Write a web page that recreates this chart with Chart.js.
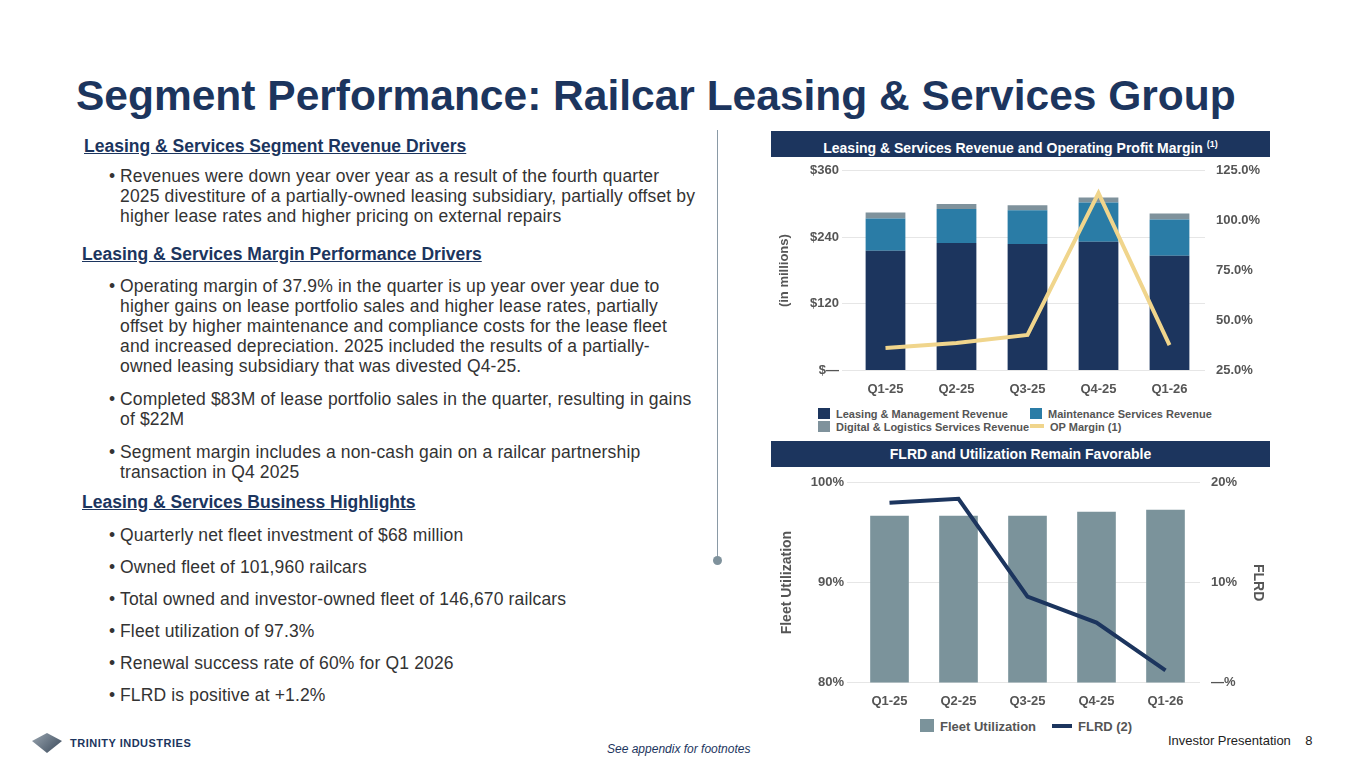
<!DOCTYPE html>
<html><head><meta charset="utf-8">
<script src="https://cdn.jsdelivr.net/npm/chart.js@4"></script>
<style>
body{margin:0;width:1365px;height:768px;position:relative;font-family:Arial,"Liberation Sans",sans-serif;background:#fff;overflow:hidden}
.abs{position:absolute}
h1{position:absolute;left:76px;top:72px;margin:0;font-size:42.5px;color:#1c355e;font-weight:bold;letter-spacing:0px}
.hd{position:absolute;left:84px;font-size:17.5px;font-weight:bold;color:#1c355e;text-decoration:underline}
.b{position:absolute;left:110px;font-size:17.5px;color:#333;line-height:20px;width:588px;letter-spacing:0.15px}
.b:before{content:"•";position:absolute;left:-1px}
.b span{display:block;padding-left:10px}
.bar{position:absolute;left:771px;width:499px;height:26px;background:#1c355e;color:#fff;font-size:14px;font-weight:bold;text-align:center;line-height:26px}
.lg{position:absolute;font-size:11px;font-weight:bold;color:#555}
.sw{display:inline-block;width:12px;height:11px;vertical-align:-1px;margin-right:6px}
</style></head><body>
<h1>Segment Performance: Railcar Leasing &amp; Services Group</h1>
<div class="hd" style="top:136px">Leasing &amp; Services Segment Revenue Drivers</div>
<div class="b" style="top:166px"><span>Revenues were down year over year as a result of the fourth quarter 2025 divestiture of a partially-owned leasing subsidiary, partially offset by higher lease rates and higher pricing on external repairs</span></div>
<div class="hd" style="top:244px;left:82px">Leasing &amp; Services Margin Performance Drivers</div>
<div class="b" style="top:276px"><span>Operating margin of 37.9% in the quarter is up year over year due to higher gains on lease portfolio sales and higher lease rates, partially offset by higher maintenance and compliance costs for the lease fleet and increased depreciation. 2025 included the results of a partially-owned leasing subsidiary that was divested Q4-25.</span></div>
<div class="b" style="top:389px"><span>Completed $83M of lease portfolio sales in the quarter, resulting in gains of $22M</span></div>
<div class="b" style="top:442px"><span>Segment margin includes a non-cash gain on a railcar partnership transaction in Q4 2025</span></div>
<div class="hd" style="top:492px;left:82px">Leasing &amp; Services Business Highlights</div>
<div class="b" style="top:525px"><span>Quarterly net fleet investment of $68 million</span></div>
<div class="b" style="top:557px"><span>Owned fleet of 101,960 railcars</span></div>
<div class="b" style="top:589px"><span>Total owned and investor-owned fleet of 146,670 railcars</span></div>
<div class="b" style="top:621px"><span>Fleet utilization of 97.3%</span></div>
<div class="b" style="top:653px"><span>Renewal success rate of 60% for Q1 2026</span></div>
<div class="b" style="top:685px"><span>FLRD is positive at +1.2%</span></div>
<div class="abs" style="left:717px;top:130px;width:1px;height:430px;background:#8a9aa6"></div>
<div class="abs" style="left:713px;top:556px;width:9px;height:9px;border-radius:50%;background:#7f929c"></div>
<div class="bar" style="top:131px">Leasing &amp; Services Revenue and Operating Profit Margin <sup style="font-size:9px">(1)</sup></div>
<div class="bar" style="top:441px">FLRD and Utilization Remain Favorable</div>
<div class="abs" style="left:775px;top:160px;width:495px;height:240px"><canvas id="c1"></canvas></div>
<div class="abs" style="left:775px;top:472px;width:495px;height:240px"><canvas id="c2"></canvas></div>
<div class="lg" style="left:818px;top:408px"><span class="sw" style="background:#1c355e"></span>Leasing &amp; Management Revenue</div>
<div class="lg" style="left:1030px;top:408px"><span class="sw" style="background:#2a7ca6"></span>Maintenance Services Revenue</div>
<div class="lg" style="left:818px;top:421px"><span class="sw" style="background:#7f929c"></span>Digital &amp; Logistics Services Revenue</div>
<div class="lg" style="left:1030px;top:421px"><span class="sw" style="background:#f0d58c;height:4px;vertical-align:3px;width:14px"></span>OP Margin (1)</div>
<div class="lg" style="left:920px;top:719px;font-size:13px"><span class="sw" style="background:#7b939b;width:14px;height:13px"></span>Fleet Utilization</div>
<div class="lg" style="left:1052px;top:719px;font-size:13px"><span class="sw" style="background:#1c355e;height:4px;width:20px;vertical-align:3px"></span>FLRD (2)</div>
<div class="abs" style="left:32px;top:733px;font-size:11px;font-weight:bold;color:#1c355e;letter-spacing:0.5px"><span style="display:inline-block;width:30px;height:20px;vertical-align:-6px;background:linear-gradient(135deg,#9aa6b0,#39485a);clip-path:polygon(0 40%,50% 0,100% 40%,50% 100%);margin-right:8px"></span>TRINITY INDUSTRIES</div>
<div class="abs" style="left:607px;top:742px;font-size:12px;font-style:italic;color:#1c355e">See appendix for footnotes</div>
<div class="abs" style="left:1168px;top:733px;font-size:13px;color:#222">Investor Presentation&nbsp;&nbsp;&nbsp;&nbsp;8</div>
<script>
const quarters=["Q1-25","Q2-25","Q3-25","Q4-25","Q1-26"];
const leasingMgmt=[216,230,228,232,207];
const maintenance=[58,61,61,71,65];
const digital=[11,9,9,9,11];
const opMargin=[36.2,38.7,42.8,113.8,37.7];
const fleetUtil=[96.7,96.7,96.7,97.1,97.3];
const flrd=[18.0,18.4,8.6,6.0,1.2];
Chart.defaults.font.family="Arial, 'Liberation Sans', sans-serif";
Chart.defaults.font.weight="bold";
Chart.defaults.color="#555";
Chart.defaults.animation=false;
const fix=(w)=>function(s){s.width=w;};
new Chart(document.getElementById('c1'),{data:{labels:quarters,datasets:[
{type:'line',data:opMargin,yAxisID:'y1',borderColor:'#f0d58c',borderWidth:4,pointRadius:0,tension:0},
{type:'bar',data:leasingMgmt,backgroundColor:'#1c355e',stack:'s',categoryPercentage:0.56,barPercentage:1},
{type:'bar',data:maintenance,backgroundColor:'#2a7ca6',stack:'s',categoryPercentage:0.56,barPercentage:1},
{type:'bar',data:digital,backgroundColor:'#7f929c',stack:'s',categoryPercentage:0.56,barPercentage:1}]},
options:{responsive:true,maintainAspectRatio:false,layout:{padding:{top:6,right:0}},plugins:{legend:{display:false},tooltip:{enabled:false}},
scales:{x:{stacked:true,grid:{display:false},border:{display:false},ticks:{font:{size:13},color:'#555'}},
y:{stacked:true,min:0,max:360,afterFit:fix(75),ticks:{stepSize:120,font:{size:13},callback:v=>v===0?'$—':'$'+v},grid:{color:'#e6e6e6'},border:{display:false},title:{display:true,text:'(in millions)',font:{size:13},padding:2}},
y1:{position:'right',min:25,max:125,afterFit:fix(65),ticks:{stepSize:25,font:{size:13},callback:v=>v.toFixed(1)+'%'},grid:{display:false},border:{display:false}}}}});
new Chart(document.getElementById('c2'),{data:{labels:quarters,datasets:[
{type:'line',data:flrd,yAxisID:'y1',borderColor:'#1c355e',borderWidth:4,pointRadius:0,tension:0},
{type:'bar',data:fleetUtil,backgroundColor:'#7b939b',categoryPercentage:0.56,barPercentage:1}]},
options:{responsive:true,maintainAspectRatio:false,layout:{padding:{top:6}},plugins:{legend:{display:false},tooltip:{enabled:false}},
scales:{x:{grid:{display:false},border:{display:false},ticks:{font:{size:13}}},
y:{min:80,max:100,afterFit:fix(80),ticks:{stepSize:10,font:{size:13},callback:v=>v+'%'},grid:{color:'#e6e6e6'},border:{display:false},title:{display:true,text:'Fleet Utilization',font:{size:14},padding:4}},
y1:{position:'right',min:0,max:20,afterFit:fix(70),ticks:{stepSize:10,font:{size:13},callback:v=>v===0?'—%':v+'%'},grid:{display:false},border:{display:false},title:{display:true,text:'FLRD',font:{size:14},padding:4}}}}});
</script>
</body></html>
